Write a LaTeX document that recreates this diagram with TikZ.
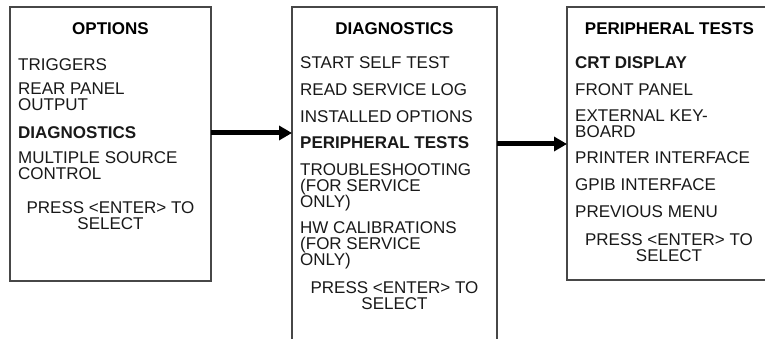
\documentclass[tikz,border=0pt]{standalone}
\usepackage{fontspec}
\setmainfont{Liberation Sans}
\usetikzlibrary{arrows.meta}
\begin{document}
\begin{tikzpicture}[x=1pt,y=-1pt,
  menubox/.style={draw=black!72, line width=1.2pt, rectangle, anchor=north west, inner sep=0pt, outer sep=0pt},
  item/.style={anchor=north west, inner sep=0pt, align=left, font=\fontsize{17}{16}\selectfont, text=black!90},
  bitem/.style={item, font=\fontsize{17}{16}\selectfont\bfseries},
  ttl/.style={anchor=north, inner sep=0pt, font=\fontsize{17}{16}\selectfont\bfseries},
  press/.style={anchor=north, inner sep=0pt, align=center, font=\fontsize{17}{16}\selectfont, text=black!90},
  arr/.style={line width=5pt, -{Triangle[length=13pt,width=14pt]}}
]
\useasboundingbox (0,0) rectangle (765,339);
\clip (0,0) rectangle (765,339);
\fill[white] (0,0) rectangle (765,339);

% boxes
\node[menubox, minimum width=201pt, minimum height=274pt] (opt) at (10,7) {};
\node[menubox, minimum width=205pt, minimum height=345pt] (diag) at (292,7) {};
\node[menubox, minimum width=205pt, minimum height=273pt] (peri) at (567,7) {};

% options box
\node[ttl] (t1) at (110.5,22) {OPTIONS};
\node[item] (o1) at (18,58.3) {TRIGGERS};
\node[item] (o2) at (18,82.7) {REAR PANEL\\OUTPUT};
\node[bitem] (o3) at (18,126.7) {DIAGNOSTICS};
\node[item] (o4) at (18,151.7) {MULTIPLE SOURCE\\CONTROL};
\node[press] (o5) at (110.5,201) {PRESS <ENTER> TO\\SELECT};

% diagnostics box
\node[ttl] (t2) at (394.5,22) {DIAGNOSTICS};
\node[item] (d1) at (300,56.7) {START SELF TEST};
\node[item] (d2) at (300,83.3) {READ SERVICE LOG};
\node[item] (d3) at (300,110) {INSTALLED OPTIONS};
\node[bitem] (d4) at (300,136.7) {PERIPHERAL TESTS};
\node[item] (d5) at (300,163.3) {TROUBLESHOOTING\\(FOR SERVICE\\ONLY)};
\node[item] (d6) at (300,221.7) {HW CALIBRATIONS\\(FOR SERVICE\\ONLY)};
\node[press] (d7) at (394.5,281) {PRESS <ENTER> TO\\SELECT};

% peripheral tests box
\node[ttl] (t3) at (669.5,22) {PERIPHERAL TESTS};
\node[bitem] (p1) at (575,56.7) {CRT DISPLAY};
\node[item] (p2) at (575,83.3) {FRONT PANEL};
\node[item] (p3) at (575,110) {EXTERNAL KEY-\\BOARD};
\node[item] (p4) at (575,151.7) {PRINTER INTERFACE};
\node[item] (p5) at (575,178.3) {GPIB INTERFACE};
\node[item] (p6) at (575,205) {PREVIOUS MENU};
\node[press] (p7) at (669,233.3) {PRESS <ENTER> TO\\SELECT};

% arrows
\draw[arr] (opt.east |- 0,133) -- (diag.west |- 0,133);
\draw[arr] (diag.east |- 0,144) -- (peri.west |- 0,144);
\end{tikzpicture}
\end{document}
